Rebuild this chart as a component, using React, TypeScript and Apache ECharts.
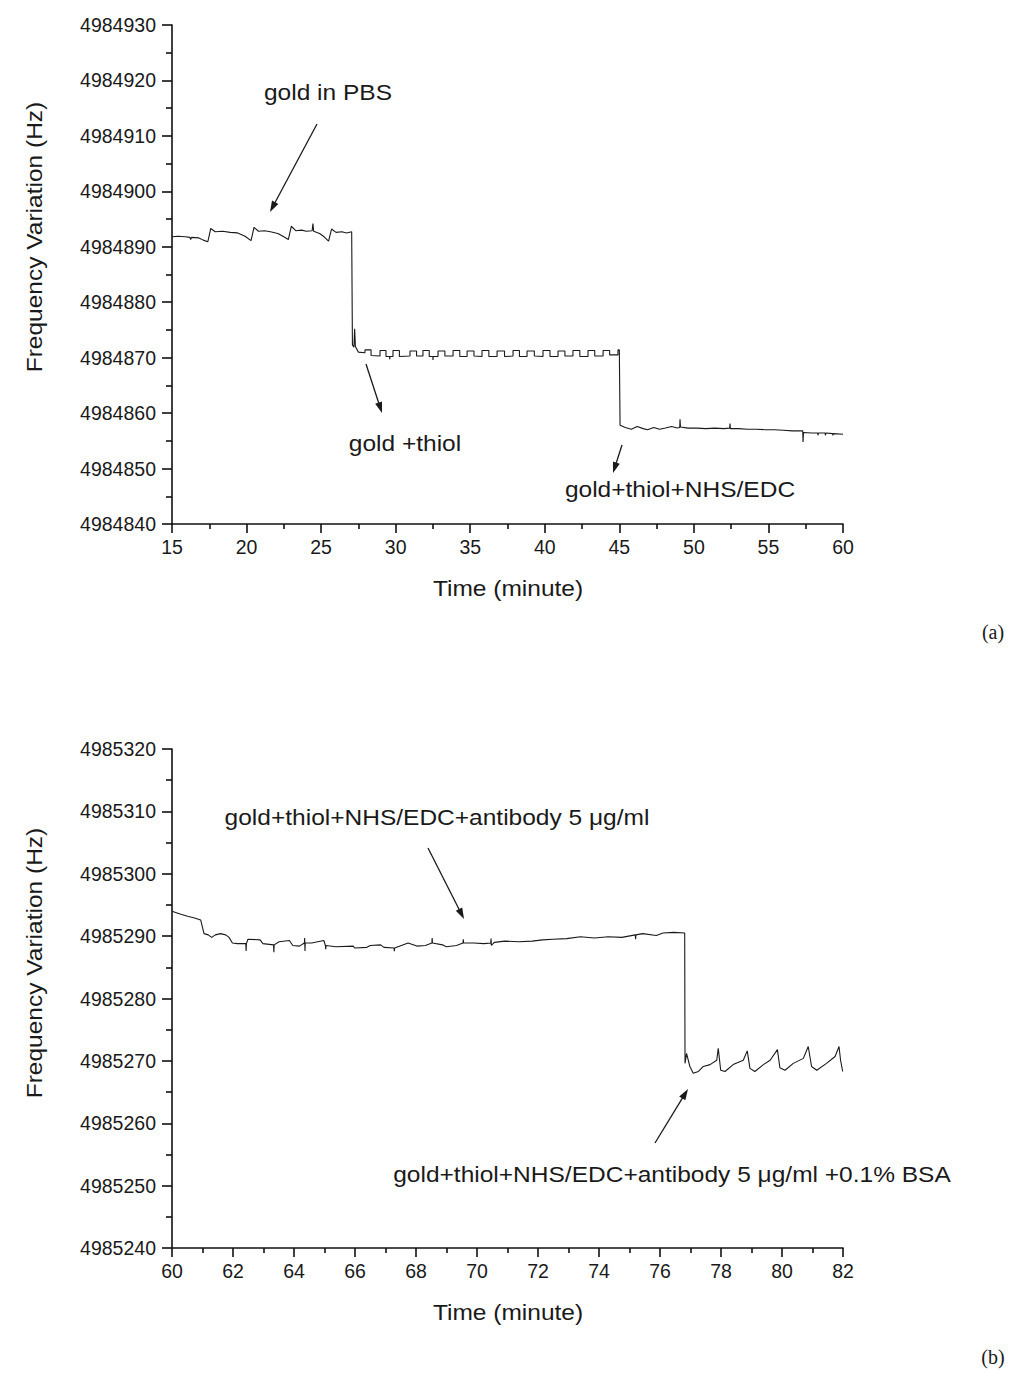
import React, { useEffect, useRef } from "react";
import * as echarts from "echarts";

type Pt = [number, number];

// ---------- axis ranges ----------
const timeRangeA = [15, 60];
const timeRangeB = [60, 82];
const freqRangeA = [4984840, 4984930];
const freqRangeB = [4985240, 4985320];

// ---------- chart (a) ----------
const goldInPBS: Pt[] = [
  [15.0, 4984891.8], [15.4, 4984891.9], [15.9, 4984891.8], [16.2, 4984891.7], [16.25, 4984891.3], [16.3, 4984891.7],
  [16.8, 4984891.6], [17.1, 4984891.2], [17.4, 4984890.9], [17.6, 4984893.3], [17.9, 4984892.7], [18.4, 4984892.8],
  [18.9, 4984892.6], [19.4, 4984892.5], [19.9, 4984891.9], [20.3, 4984891.1], [20.5, 4984893.5], [20.8, 4984892.8],
  [21.2, 4984892.9], [21.6, 4984892.7], [22.1, 4984892.4], [22.5, 4984891.8], [22.8, 4984891.3], [23.0, 4984893.7],
  [23.3, 4984892.9], [23.7, 4984893.0], [24.0, 4984892.8], [24.4, 4984892.9], [24.45, 4984894.2], [24.5, 4984892.8],
  [24.9, 4984892.4], [25.2, 4984891.8], [25.5, 4984891.0], [25.7, 4984893.2], [26.0, 4984892.6], [26.4, 4984892.7],
  [26.7, 4984892.5], [27.05, 4984892.7],
];

const goldThiol: Pt[] = [
  [27.1, 4984872.3], [27.2, 4984871.9], [27.25, 4984875.2], [27.3, 4984872.0], [27.5, 4984871.0],
  [27.94, 4984870.9], [27.94, 4984871.4], [28.35, 4984871.4], [28.35, 4984870.4],
  [28.95, 4984870.3], [28.95, 4984871.3], [29.35, 4984871.3], [29.35, 4984870.2],
  [29.6, 4984870.2], [29.6, 4984869.7], [29.62, 4984870.2],
  [29.82, 4984870.2], [29.82, 4984871.3], [30.25, 4984871.3], [30.25, 4984870.2],
  [30.96, 4984870.3], [30.96, 4984871.2], [31.4, 4984871.2], [31.4, 4984870.3],
  [31.83, 4984870.3], [31.83, 4984871.3], [32.25, 4984871.3], [32.25, 4984870.2],
  [32.5, 4984870.2], [32.5, 4984869.6], [32.52, 4984870.2],
  [32.84, 4984870.2], [32.84, 4984871.2], [33.3, 4984871.2], [33.3, 4984870.3],
  [33.85, 4984870.3], [33.85, 4984871.3], [34.3, 4984871.3], [34.3, 4984870.2],
  [34.79, 4984870.2], [34.79, 4984871.2], [35.25, 4984871.2], [35.25, 4984870.3],
  [35.79, 4984870.2], [35.79, 4984871.3], [36.25, 4984871.3], [36.25, 4984870.2],
  [36.8, 4984870.2], [36.8, 4984871.2], [37.3, 4984871.2], [37.3, 4984870.2],
  [37.87, 4984870.3], [37.87, 4984871.3], [38.3, 4984871.3], [38.3, 4984870.2],
  [38.81, 4984870.2], [38.81, 4984871.2], [39.3, 4984871.2], [39.3, 4984870.3],
  [39.88, 4984870.2], [39.88, 4984871.3], [40.35, 4984871.3], [40.35, 4984870.2],
  [40.89, 4984870.2], [40.89, 4984871.2], [41.35, 4984871.2], [41.35, 4984870.3],
  [41.89, 4984870.3], [41.89, 4984871.3], [42.35, 4984871.3], [42.35, 4984870.2],
  [42.9, 4984870.2], [42.9, 4984871.3], [43.35, 4984871.3], [43.35, 4984870.3],
  [43.91, 4984870.3], [43.91, 4984871.3], [44.35, 4984871.3], [44.35, 4984870.5],
  [44.91, 4984870.5], [44.91, 4984871.4], [45.0, 4984871.4],
];

const goldThiolNhsEdc: Pt[] = [
  [45.05, 4984857.8], [45.4, 4984857.4], [45.8, 4984857.1], [46.2, 4984857.6], [46.6, 4984857.2], [46.9, 4984857.0],
  [47.3, 4984857.4], [47.7, 4984857.1], [48.1, 4984857.3], [48.5, 4984857.6], [48.9, 4984857.3], [49.05, 4984857.4],
  [49.07, 4984858.9], [49.1, 4984857.5], [49.6, 4984857.3], [50.2, 4984857.3], [50.8, 4984857.2], [51.4, 4984857.3],
  [52.0, 4984857.2], [52.4, 4984857.3], [52.42, 4984858.1], [52.45, 4984857.2], [53.0, 4984857.2], [53.6, 4984857.1],
  [54.2, 4984857.1], [54.8, 4984857.0], [55.4, 4984857.0], [56.0, 4984856.9], [56.6, 4984856.8], [57.2, 4984856.8],
  [57.3, 4984856.8], [57.32, 4984854.8], [57.35, 4984856.5], [57.9, 4984856.4], [58.3, 4984856.4], [58.32, 4984856.0],
  [58.35, 4984856.4], [58.8, 4984856.4], [58.82, 4984856.0], [58.85, 4984856.4], [59.3, 4984856.3], [59.32, 4984856.0],
  [59.35, 4984856.3], [60.0, 4984856.2],
];

// ---------- chart (b) ----------
const antibody: Pt[] = [
  [60.0, 4985294.0], [60.29, 4985293.5], [60.51, 4985293.2], [60.74, 4985292.9], [60.94, 4985292.6], [61.05, 4985290.4],
  [61.19, 4985290.2], [61.3, 4985289.8], [61.42, 4985290.2], [61.59, 4985290.4], [61.76, 4985290.2], [61.87, 4985289.8],
  [61.98, 4985288.9], [62.15, 4985288.8], [62.42, 4985288.8], [62.43, 4985287.6], [62.44, 4985288.8], [62.49, 4985289.5],
  [62.89, 4985289.4], [62.98, 4985288.8], [63.33, 4985288.6], [63.34, 4985287.4], [63.35, 4985288.6], [63.51, 4985289.1],
  [63.85, 4985289.3], [63.96, 4985288.5], [64.18, 4985288.4], [64.34, 4985288.9], [64.35, 4985289.7], [64.36, 4985287.6],
  [64.37, 4985288.9], [64.58, 4985288.9], [64.98, 4985289.3], [65.03, 4985288.5], [65.04, 4985287.9], [65.05, 4985288.5],
  [65.37, 4985288.3], [65.94, 4985288.4], [65.99, 4985288.1], [66.39, 4985288.2], [66.5, 4985288.5], [66.84, 4985288.6],
  [66.95, 4985288.2], [67.28, 4985288.1], [67.29, 4985287.6], [67.3, 4985288.1], [67.52, 4985288.5], [67.74, 4985288.9],
  [68.03, 4985288.4], [68.31, 4985288.5], [68.52, 4985288.9], [68.53, 4985289.7], [68.54, 4985288.9], [68.87, 4985288.6],
  [68.99, 4985288.3], [69.33, 4985288.5], [69.54, 4985288.9], [69.55, 4985289.5], [69.56, 4985288.9], [69.89, 4985288.9],
  [70.23, 4985288.8], [70.45, 4985288.9], [70.46, 4985289.6], [70.47, 4985288.5], [70.57, 4985289.0], [70.91, 4985289.2],
  [71.36, 4985289.1], [71.81, 4985289.2], [72.15, 4985289.4], [72.49, 4985289.5], [72.94, 4985289.6], [73.39, 4985289.9],
  [73.85, 4985289.7], [74.3, 4985289.9], [74.75, 4985289.8], [75.19, 4985290.2], [75.2, 4985289.5], [75.21, 4985290.2],
  [75.43, 4985290.4], [75.88, 4985290.1], [76.1, 4985290.5], [76.45, 4985290.6], [76.81, 4985290.5],
];

const antibodyBsa: Pt[] = [
  [76.82, 4985269.6], [76.87, 4985271.2], [76.98, 4985269.1], [77.09, 4985268.0], [77.26, 4985268.3], [77.42, 4985269.1],
  [77.64, 4985269.4], [77.86, 4985270.1], [77.91, 4985272.0], [77.99, 4985268.5], [78.13, 4985268.3], [78.4, 4985269.4],
  [78.73, 4985270.1], [78.86, 4985271.6], [78.95, 4985268.8], [79.11, 4985268.3], [79.39, 4985269.4], [79.61, 4985270.1],
  [79.85, 4985271.8], [79.93, 4985268.9], [80.1, 4985268.5], [80.37, 4985269.6], [80.7, 4985270.4], [80.86, 4985272.3],
  [80.97, 4985269.1], [81.14, 4985268.5], [81.46, 4985269.6], [81.74, 4985270.7], [81.87, 4985272.3], [81.92, 4985270.1],
  [81.99, 4985268.3],
];

// ---------- texts ----------
const xTitle = "Time (minute)";
const yTitle = "Frequency Variation (Hz)";
const notePBS = "gold in PBS";
const noteThiol = "gold +thiol";
const noteNhs = "gold+thiol+NHS/EDC";
const noteAntibody = "gold+thiol+NHS/EDC+antibody 5 \u03bcg/ml";
const noteBsa = "gold+thiol+NHS/EDC+antibody 5 \u03bcg/ml +0.1% BSA";

const SANS = "'Liberation Sans', Arial, Helvetica, sans-serif";
const SERIF = "'Liberation Serif', 'Times New Roman', serif";
const INK = "#1a1a1a";

function arrow(x1: number, y1: number, x2: number, y2: number) {
  const dx = x2 - x1;
  const dy = y2 - y1;
  const L = Math.hypot(dx, dy);
  const ux = dx / L;
  const uy = dy / L;
  const hl = 11;
  const hw = 3.6;
  const bx = x2 - ux * hl;
  const by = y2 - uy * hl;
  return [
    { type: "line", silent: true, shape: { x1, y1, x2: bx + ux * 2, y2: by + uy * 2 }, style: { stroke: INK, lineWidth: 1.3 } },
    {
      type: "polygon",
      silent: true,
      shape: { points: [[x2, y2], [bx - uy * hw, by + ux * hw], [bx + uy * hw, by - ux * hw]] },
      style: { fill: INK },
    },
  ];
}

function label(text: string, x: number, y: number, opts: any = {}) {
  return {
    type: "text",
    silent: true,
    x,
    y,
    rotation: opts.rotation || 0,
    scaleX: opts.scaleX ?? 1.14,
    style: {
      text,
      fontSize: opts.fontSize ?? 21.5,
      fontFamily: opts.fontFamily ?? SANS,
      fill: INK,
      align: "center",
      verticalAlign: "middle",
    },
  };
}

function xAxisCfg(gridIndex: number, range: number[], interval: number) {
  return {
    gridIndex,
    type: "value",
    min: range[0],
    max: range[1],
    interval,
    axisLine: { show: true, onZero: false, lineStyle: { color: "#111", width: 1.6 } },
    axisTick: { show: true, inside: false, length: 9, lineStyle: { color: "#111", width: 1.6 } },
    minorTick: { show: true, splitNumber: 2, length: 5, lineStyle: { color: "#111", width: 1.6 } },
    axisLabel: { fontSize: 19.5, margin: 13, color: INK, fontFamily: SANS, formatter: (v: number) => String(v) },
    splitLine: { show: false },
    minorSplitLine: { show: false },
  };
}

function yAxisCfg(gridIndex: number, range: number[]) {
  return {
    gridIndex,
    type: "value",
    min: range[0],
    max: range[1],
    interval: 10,
    axisLine: { show: true, onZero: false, lineStyle: { color: "#111", width: 1.6 } },
    axisTick: { show: true, inside: false, length: 10, lineStyle: { color: "#111", width: 1.6 } },
    minorTick: { show: true, splitNumber: 2, length: 6, lineStyle: { color: "#111", width: 1.6 } },
    axisLabel: { fontSize: 19.5, margin: 16, color: INK, fontFamily: SANS, formatter: (v: number) => String(v) },
    splitLine: { show: false },
    minorSplitLine: { show: false },
  };
}

const lineSeries = (xi: number, data: Pt[]) => ({
  type: "line",
  xAxisIndex: xi,
  yAxisIndex: xi,
  data,
  showSymbol: false,
  symbol: "none",
  silent: true,
  lineStyle: { color: "#1a1a1a", width: 1.1 },
});

export default function App() {
  const ref = useRef<HTMLDivElement>(null);
  useEffect(() => {
    if (!ref.current) return;
    const chart = echarts.init(ref.current, undefined, { renderer: "svg" });
    chart.setOption({
      animation: false,
      backgroundColor: "#ffffff",
      grid: [
        { left: 172, top: 25, width: 671, height: 499 },
        { left: 172, top: 749, width: 671, height: 499 },
      ],
      xAxis: [xAxisCfg(0, timeRangeA, 5), xAxisCfg(1, timeRangeB, 2)],
      yAxis: [yAxisCfg(0, freqRangeA), yAxisCfg(1, freqRangeB)],
      series: [
        lineSeries(0, [...goldInPBS, ...goldThiol, ...goldThiolNhsEdc]),
        lineSeries(1, [...antibody, ...antibodyBsa]),
      ],
      graphic: [
        label(yTitle, 35, 237, { rotation: Math.PI / 2 }),
        label(xTitle, 508, 589),
        label(yTitle, 35, 963, { rotation: Math.PI / 2 }),
        label(xTitle, 508, 1313),
        label(notePBS, 328, 93),
        ...arrow(317, 124, 270, 212),
        label(noteThiol, 405, 444),
        ...arrow(366, 364, 382, 413),
        label(noteNhs, 680, 490),
        ...arrow(622, 445, 613, 473),
        label(noteAntibody, 437, 818),
        ...arrow(428, 848, 464, 919),
        label(noteBsa, 672, 1175),
        ...arrow(655, 1143, 688, 1089),
        label("(a)", 993, 632, { fontFamily: SERIF, fontSize: 20, scaleX: 1 }),
        label("(b)", 993, 1357, { fontFamily: SERIF, fontSize: 20, scaleX: 1 }),
      ],
    });
    return () => chart.dispose();
  }, []);
  return (
    <div
      ref={ref}
      style={{ position: "absolute", left: 0, top: 0, width: 1024, height: 1374, background: "#fff" }}
    />
  );
}
